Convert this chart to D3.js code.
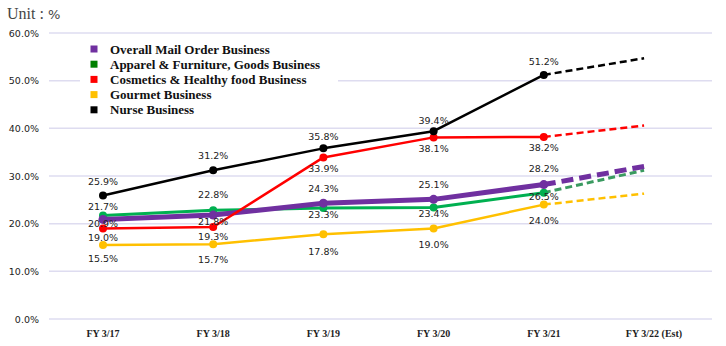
<!DOCTYPE html>
<html>
<head>
<meta charset="utf-8">
<script src="https://cdn.jsdelivr.net/npm/d3@7"></script>
<style>
  body { margin: 0; background: #fff; }
  svg { display: block; }
</style>
</head>
<body>
<div id="chart"></div>
<script>
// categories on the x axis
const years = ["FY 3/17", "FY 3/18", "FY 3/19", "FY 3/20", "FY 3/21", "FY 3/22 (Est)"];
const yTicks = [0, 10, 20, 30, 40, 50, 60];

// actual values (FY 3/17 .. FY 3/21)
const overall   = [20.9, 21.8, 24.3, 25.1, 28.2];
const apparel   = [21.7, 22.8, 23.3, 23.4, 26.5];
const cosmetics = [19.0, 19.3, 33.9, 38.1, 38.2];
const gourmet   = [15.5, 15.7, 17.8, 19.0, 24.0];
const nurse     = [25.9, 31.2, 35.8, 39.4, 51.2];

// estimate for FY 3/22 (dashed segment)
const estimate = { overall: 32.0, apparel: 31.2, cosmetics: 40.6, gourmet: 26.3, nurse: 54.7 };

const names = [
    "Overall Mail Order Business",
    "Apparel & Furniture, Goods Business",
    "Cosmetics & Healthy food Business",
    "Gourmet Business",
    "Nurse Business"
];

/*
 *  Style per series. labelDy = vertical shift of each value label from its point.
 */
const series = [
    { key: "apparel",   values: apparel,   color: "#00b050", dashColor: "#3a9a60", width: 3,   r: 4,   dash: "7,4",  legend: "#008000",
      labelDy: [-9, -16, 7, 6, 4] },
    { key: "overall",   values: overall,   color: "#7030a0", dashColor: "#7030a0", width: 5,   r: 4.5, dash: "12,6", legend: "#7030a0",
      labelDy: [4, 6, -15, -15, -16] },
    { key: "gourmet",   values: gourmet,   color: "#ffc000", dashColor: "#ffc000", width: 2.5, r: 4,   dash: "7,4",  legend: "#ffc000",
      labelDy: [13, 15, 17, 16, 16] },
    { key: "cosmetics", values: cosmetics, color: "#ff0000", dashColor: "#ff0000", width: 2.5, r: 4,   dash: "7,4",  legend: "#ff0000",
      labelDy: [9, 9, 11, 11, 11] },
    { key: "nurse",     values: nurse,     color: "#000000", dashColor: "#000000", width: 2.5, r: 4,   dash: "7,4",  legend: "#000000",
      labelDy: [-14, -15, -12, -11, -13] }
];
const legendOrder = ["overall", "apparel", "cosmetics", "gourmet", "nurse"];

const width = 726, height = 346;
const svg = d3.select("#chart").append("svg")
    .attr("width", width)
    .attr("height", height);

const x = d3.scalePoint().domain(years).range([103, 654]);
const y = d3.scaleLinear().domain([0, 60]).range([319, 33]);

// gridlines
svg.append("g").selectAll("line")
    .data(yTicks)
    .join("line")
    .attr("x1", 49).attr("x2", 712)
    .attr("y1", d => y(d)).attr("y2", d => y(d))
    .attr("stroke", "#dedcf0")
    .attr("stroke-width", 1.5);

// y tick labels
svg.append("g").selectAll("text")
    .data(yTicks)
    .join("text")
    .attr("x", 39)
    .attr("y", d => y(d) + 3.5)
    .attr("text-anchor", "end")
    .attr("font-family", "DejaVu Sans, Verdana, sans-serif")
    .attr("font-size", "9.5px")
    .attr("fill", "#222")
    .text(d => d.toFixed(1) + "%");

// x labels
svg.append("g").selectAll("text")
    .data(years)
    .join("text")
    .attr("x", d => x(d))
    .attr("y", 337)
    .attr("text-anchor", "middle")
    .attr("font-family", "Liberation Serif, Times New Roman, serif")
    .attr("font-weight", "bold")
    .attr("font-size", "10px")
    .attr("fill", "#222")
    .text(d => d);

// unit
const unit = svg.append("text")
    .attr("x", 7)
    .attr("y", 19)
    .attr("font-family", "Liberation Serif, Times New Roman, serif")
    .attr("font-size", "16px")
    .attr("fill", "#444");
unit.append("tspan").text("Unit : ");
unit.append("tspan").attr("font-family", "DejaVu Sans, sans-serif").attr("font-size", "13px").text("%");

// legend
const legend = svg.append("g");
legend.append("rect")
    .attr("x", 80).attr("y", 38)
    .attr("width", 258).attr("height", 80)
    .attr("fill", "#fff");
legendOrder.forEach((k, i) => {
    let s = series.find(d => d.key === k);
    let ly = 49 + i * 15.2;
    legend.append("rect")
        .attr("x", 90.5).attr("y", ly - 3.5)
        .attr("width", 7).attr("height", 7)
        .attr("fill", s.legend);
    legend.append("text")
        .attr("x", 110).attr("y", ly + 4.5)
        .attr("font-family", "Liberation Serif, Times New Roman, serif")
        .attr("font-weight", "bold")
        .attr("font-size", "13px")
        .attr("fill", "#111")
        .text(names[i]);
});

const line = d3.line()
    .x(d => d.x)
    .y(d => y(d.v));

const lastActual = years[4];
const estYear = years[5];
// the dashed segment stops a little short of the FY 3/22 column
const estX = x(lastActual) + (x(estYear) - x(lastActual)) * 0.91;

series.forEach(s => {
    let g = svg.append("g");
    let pts = s.values.map((v, i) => ({ x: x(years[i]), v: v }));

    g.append("path")
        .attr("d", line([pts[pts.length - 1], { x: estX, v: estimate[s.key] }]))
        .attr("fill", "none")
        .attr("stroke", s.dashColor)
        .attr("stroke-width", s.width)
        .attr("stroke-dasharray", s.dash);

    g.append("path")
        .attr("d", line(pts))
        .attr("fill", "none")
        .attr("stroke", s.color)
        .attr("stroke-width", s.width)
        .attr("stroke-linejoin", "round");

    g.selectAll("circle")
        .data(pts)
        .join("circle")
        .attr("cx", d => d.x)
        .attr("cy", d => y(d.v))
        .attr("r", s.r)
        .attr("fill", s.color);
});

// value labels on top
series.forEach(s => {
    svg.append("g").selectAll("text")
        .data(s.values)
        .join("text")
        .attr("x", (d, i) => x(years[i]))
        .attr("y", (d, i) => y(d) + s.labelDy[i] + 3.5)
        .attr("text-anchor", "middle")
        .attr("font-family", "DejaVu Sans, Verdana, sans-serif")
        .attr("font-size", "9.5px")
        .attr("fill", "#222")
        .text(d => d.toFixed(1) + "%");
});
</script>
</body>
</html>
